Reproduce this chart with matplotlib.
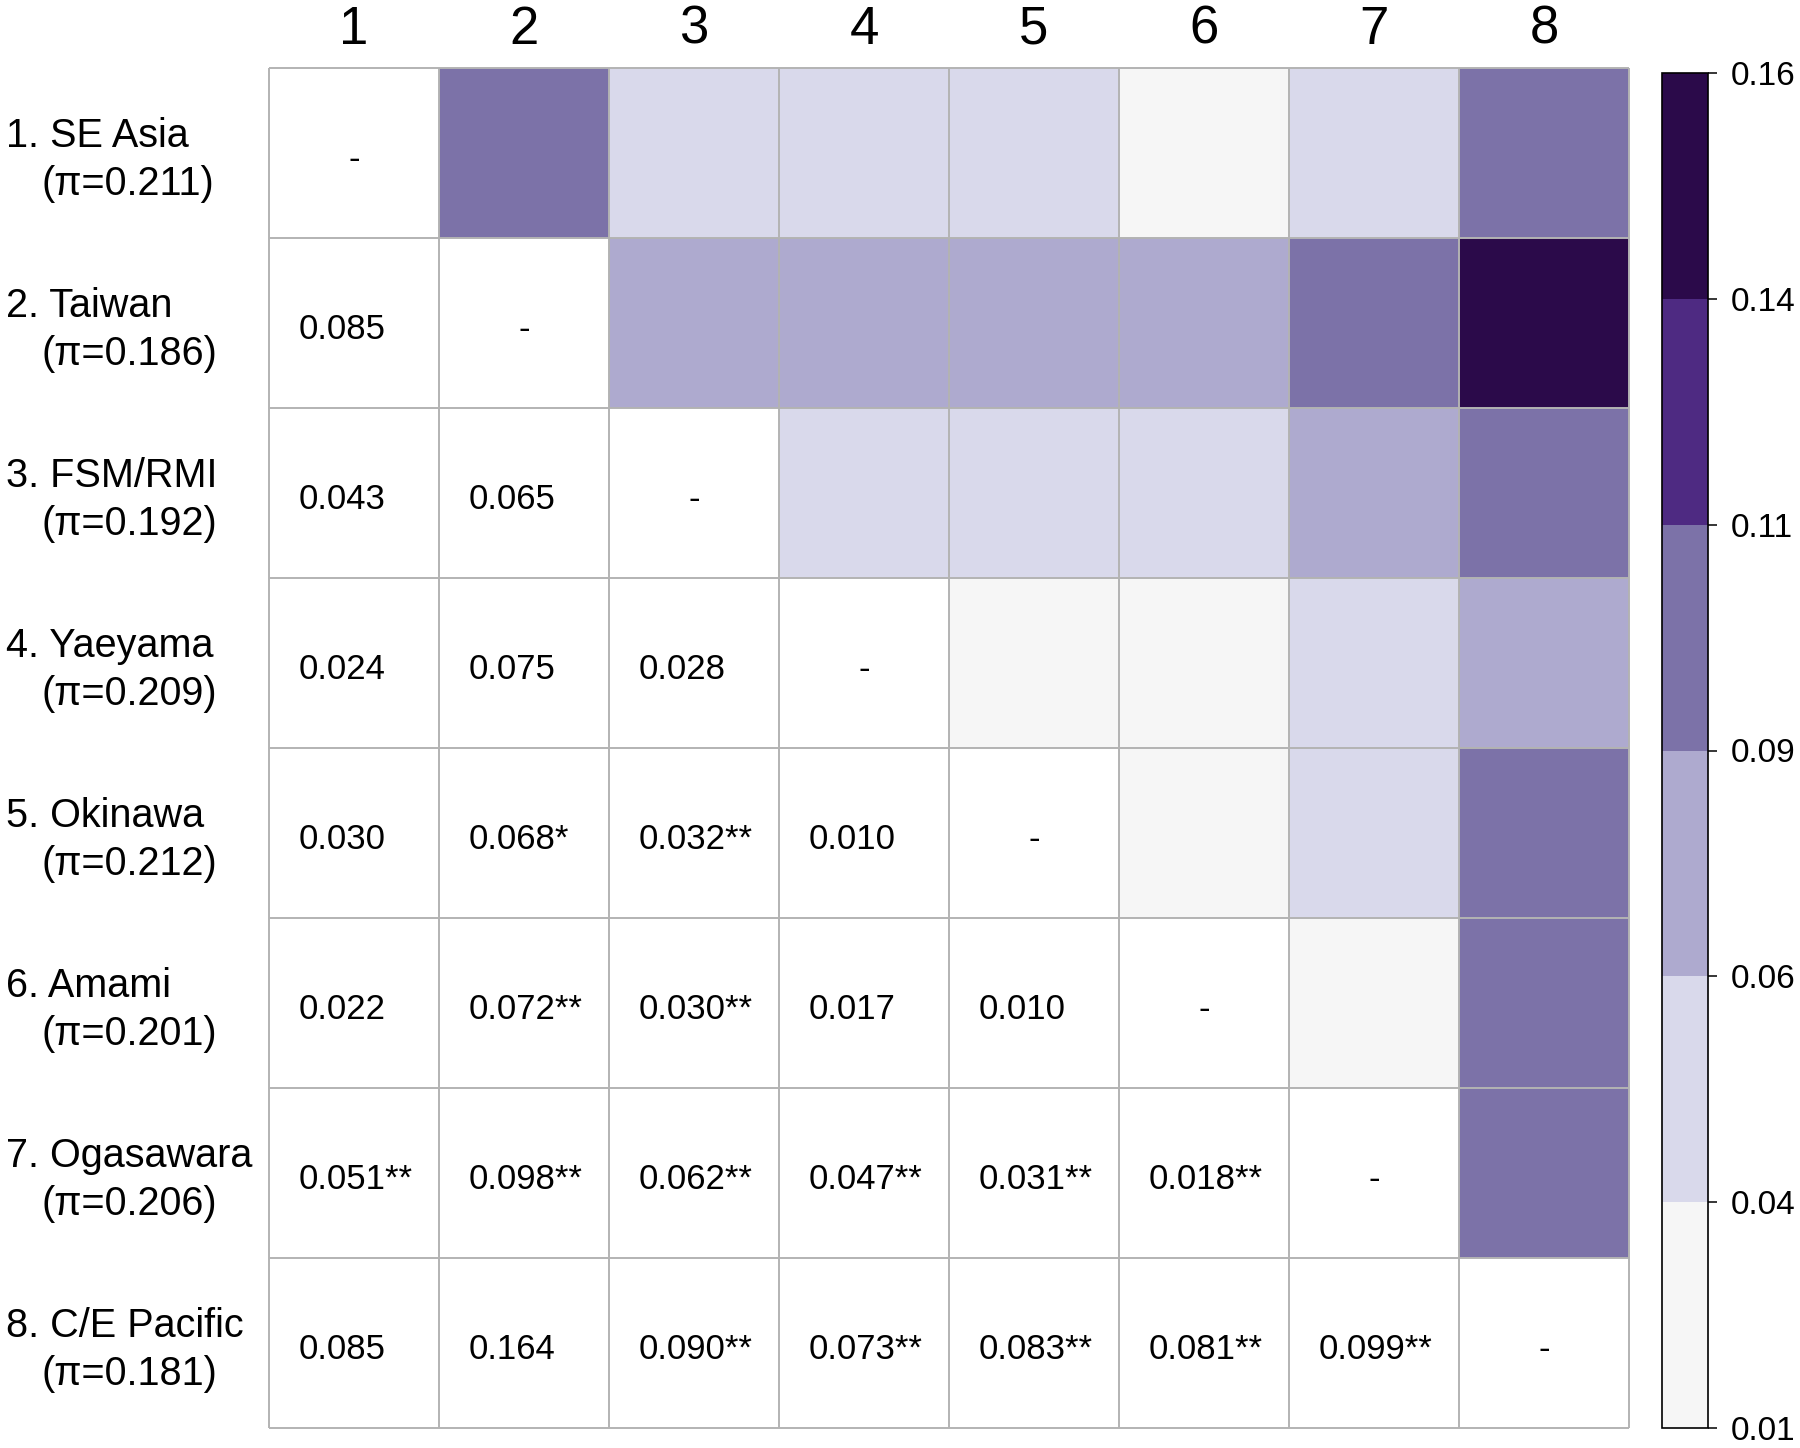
import numpy as np
import matplotlib
matplotlib.use("Agg")
import matplotlib.pyplot as plt
from matplotlib.colors import ListedColormap, BoundaryNorm
from matplotlib.cm import ScalarMappable

plt.rcParams['font.family'] = ['Liberation Sans', 'DejaVu Sans']

# populations and diversity
pops = ["1. SE Asia", "2. Taiwan", "3. FSM/RMI", "4. Yaeyama",
        "5. Okinawa", "6. Amami", "7. Ogasawara", "8. C/E Pacific"]
pi_vals = [0.211, 0.186, 0.192, 0.209, 0.212, 0.201, 0.206, 0.181]
col_labels = ["1", "2", "3", "4", "5", "6", "7", "8"]

# pairwise values, lower triangle (row i, columns 0..i-1)
lower = [
    [],
    [0.085],
    [0.043, 0.065],
    [0.024, 0.075, 0.028],
    [0.030, 0.068, 0.032, 0.010],
    [0.022, 0.072, 0.030, 0.017, 0.010],
    [0.051, 0.098, 0.062, 0.047, 0.031, 0.018],
    [0.085, 0.164, 0.090, 0.073, 0.083, 0.081, 0.099],
]
stars = [
    [],
    [""],
    ["", ""],
    ["", "", ""],
    ["", "*", "**", ""],
    ["", "**", "**", "", ""],
    ["**", "**", "**", "**", "**", "**"],
    ["", "", "**", "**", "**", "**", "**"],
]

# shading of upper triangle (row i, columns i+1..7)
upper = [
    [0.095, 0.045, 0.045, 0.045, 0.025, 0.045, 0.095],
    [0.070, 0.070, 0.070, 0.070, 0.095, 0.150],
    [0.045, 0.045, 0.045, 0.070, 0.095],
    [0.025, 0.025, 0.045, 0.070],
    [0.025, 0.045, 0.095],
    [0.025, 0.095],
    [0.095],
    [],
]

bounds = [0.01, 0.035, 0.06, 0.085, 0.11, 0.135, 0.16]
bound_labels = ["0.01", "0.04", "0.06", "0.09", "0.11", "0.14", "0.16"]
bin_colors = ["#f6f6f6", "#d9d9eb", "#aeaacf", "#7c72a8", "#4e2a82", "#2b0a4a"]

n = len(pops)
mat = np.full((n, n), np.nan)
for i in range(n):
    for k, v in enumerate(upper[i]):
        mat[i, i + 1 + k] = v

cmap = ListedColormap(bin_colors)
cmap.set_bad("white")
norm = BoundaryNorm(bounds, cmap.N)

W, H = 1800, 1448
fig = plt.figure(figsize=(W / 100, H / 100), dpi=100)
fig.patch.set_facecolor("white")

# main grid
gl, gt, cell = 269, 68, 170
ax = fig.add_axes([gl / W, 1 - (gt + n * cell) / H, n * cell / W, n * cell / H])
ax.pcolormesh(np.arange(n + 1), np.arange(n + 1), np.ma.masked_invalid(mat),
              cmap=cmap, norm=norm)
ax.set_xlim(0, n)
ax.set_ylim(n, 0)
grid_c = "#b3b3b3"
ax.hlines(np.arange(n + 1), 0, n, color=grid_c, lw=1.4, clip_on=False)
ax.vlines(np.arange(n + 1), 0, n, color=grid_c, lw=1.4, clip_on=False)
ax.set_xticks([])
ax.set_yticks([])
for s in ax.spines.values():
    s.set_visible(False)

u = 1 / cell  # one pixel in data units
for i in range(n):
    for j, v in enumerate(lower[i]):
        ax.text(j + 30 * u, i + 0.5 + 16 * u, f"{v:.3f}{stars[i][j]}",
                ha="left", va="baseline", fontsize=25)
    ax.text(i + 0.5, i + 0.5 + 16 * u, "-", ha="center", va="baseline", fontsize=25)

# column headers
for j, lab in enumerate(col_labels):
    ax.text(j + 0.5, -24 * u, lab, ha="center", va="baseline", fontsize=38,
            clip_on=False)

# row labels
for i, lab in enumerate(pops):
    ax.text((6 - gl) * u, i + 0.5 - 6 * u, lab, ha="left", va="baseline",
            fontsize=28.5, clip_on=False)
    ax.text((41 - gl) * u, i + 0.5 + 42 * u, f"(\u03c0={pi_vals[i]:.3f})",
            ha="left", va="baseline", fontsize=28.5, clip_on=False)

# colour bar
cb_l, cb_t, cb_w, cb_b = 1662, 73, 46, 1428
cax = fig.add_axes([cb_l / W, 1 - cb_b / H, cb_w / W, (cb_b - cb_t) / H])
sm = ScalarMappable(norm=norm, cmap=cmap)
cb = fig.colorbar(sm, cax=cax, ticks=bounds, spacing="uniform")
cb.ax.set_yticklabels(bound_labels)
cb.ax.tick_params(length=6.5, width=1.1, pad=10, labelsize=24, color="black")
cb.outline.set_linewidth(1.2)
cb.outline.set_edgecolor("black")

fig.savefig("out.png", dpi=100, facecolor="white")
